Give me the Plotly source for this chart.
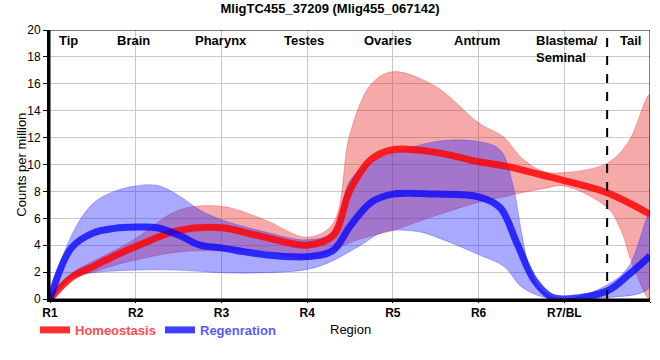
import plotly.graph_objects as go

# Region positions (index along the body) and tick labels
region_ticks = [0, 1, 2, 3, 4, 5, 6, 7]
region_labels = ["R1", "R2", "R3", "R4", "R5", "R6", "R7/BL", "R8/T"]

# Anatomical labels along the top
anat_names = ["Tip", "Brain", "Pharynx", "Testes", "Ovaries", "Antrum", "Blastema/<br>Seminal", "Tail"]
anat_pos = [0.21, 0.97, 2.0, 2.96, 3.94, 4.98, 5.65, 6.77]

# Homeostasis mean curve
homeo_x = [0, 0.25, 0.5, 0.75, 1, 1.5, 2, 2.5, 3, 3.3, 3.5, 3.75, 4, 4.5, 5, 5.3, 5.5, 5.75, 6, 6.5, 7]
homeo_y = [0, 1.6, 2.4, 3.2, 3.9, 5.1, 5.3, 4.6, 4.0, 4.7, 8.1, 10.4, 11.1, 10.9, 10.2, 9.9, 9.6, 9.2, 8.8, 7.9, 6.3]

# Homeostasis band
homeo_up_x = [0, 0.25, 0.5, 0.75, 1, 1.5, 2, 2.5, 3, 3.3, 3.5, 3.75, 4, 4.5, 5, 5.3, 5.5, 5.75, 6, 6.5, 6.75, 7]
homeo_up_y = [0, 1.9, 2.8, 3.6, 4.5, 6.6, 6.9, 5.9, 4.6, 5.6, 12.3, 16.0, 16.9, 15.8, 13.1, 12.0, 10.5, 9.5, 9.4, 10.1, 11.7, 15.2]
homeo_lo_x = [0, 0.25, 0.5, 0.75, 1, 1.5, 2, 2.5, 3, 3.3, 3.5, 3.75, 4, 4.5, 5, 5.3, 5.5, 5.75, 6, 6.5, 6.65, 6.8, 7]
homeo_lo_y = [0, 1.5, 2.0, 2.5, 2.9, 3.5, 3.6, 3.6, 3.0, 3.6, 4.2, 4.7, 5.1, 6.2, 7.2, 7.6, 7.9, 8.2, 8.4, 6.8, 5.3, 2.5, 0]

# Regeneration mean curve
regen_x = [0, 0.25, 0.5, 0.75, 1, 1.25, 1.5, 1.75, 2, 2.5, 3, 3.3, 3.5, 3.75, 4, 4.5, 5, 5.25, 5.45, 5.65, 5.85, 6, 6.5, 6.75, 7]
regen_y = [0, 3.8, 4.9, 5.25, 5.35, 5.3, 4.75, 4.0, 3.8, 3.3, 3.15, 3.6, 5.4, 7.2, 7.8, 7.8, 7.6, 6.8, 4.1, 1.4, 0.15, 0.0, 0.6, 1.8, 3.2]

# Regeneration band
regen_up_x = [0, 0.25, 0.5, 0.75, 1, 1.25, 1.5, 1.75, 2, 2.5, 3, 3.3, 3.5, 3.75, 4, 4.5, 5, 5.25, 5.4, 5.5, 5.6, 5.75, 6, 6.5, 6.75, 7]
regen_up_y = [0, 4.7, 7.1, 8.0, 8.4, 8.45, 7.7, 6.6, 5.9, 5.0, 4.4, 5.0, 8.8, 10.2, 10.8, 11.7, 11.7, 11.1, 8.5, 5.0, 2.2, 0.6, 0.0, 1.05, 2.4, 6.4]
regen_lo_x = [0, 0.25, 0.5, 1, 1.5, 2, 2.5, 3, 3.25, 3.6, 3.9, 4.3, 4.55, 5, 5.3, 5.5, 5.75, 6, 6.5, 7]
regen_lo_y = [0, 1.65, 1.95, 2.15, 2.15, 1.95, 1.95, 2.2, 2.7, 3.9, 5.0, 5.0, 4.5, 3.3, 2.4, 0.9, 0.15, 0.0, 0.1, 0.9]

FONT = "Liberation Sans, Arial, sans-serif"

fig = go.Figure()

def band(xu, yu, xl, yl, color):
    return go.Scatter(
        x=list(xu) + list(xl)[::-1],
        y=list(yu) + list(yl)[::-1],
        mode="lines", fill="toself", fillcolor=color,
        line=dict(width=0.8, color=color, shape="spline", smoothing=1.0),
        hoverinfo="skip", showlegend=False,
    )

fig.add_trace(band(homeo_up_x, homeo_up_y, homeo_lo_x, homeo_lo_y, "rgba(230,40,40,0.40)"))
fig.add_trace(band(regen_up_x, regen_up_y, regen_lo_x, regen_lo_y, "rgba(40,40,255,0.40)"))

fig.add_trace(go.Scatter(
    x=homeo_x, y=homeo_y, mode="lines",
    line=dict(color="rgba(255,0,0,0.82)", width=7, shape="spline", smoothing=1.0),
    name="<span style='color:#ff4d4d'><b>Homeostasis</b></span>",
))
fig.add_trace(go.Scatter(
    x=regen_x, y=regen_y, mode="lines",
    line=dict(color="rgba(0,0,255,0.75)", width=7, shape="spline", smoothing=1.0),
    name="<span style='color:#5a5aff'><b>Regenration</b></span>",
))

# dashed separator between Blastema/Seminal and Tail
fig.add_shape(type="line", x0=6.5, x1=6.5, y0=0, y1=20, xref="x", yref="y",
              line=dict(color="black", width=2, dash="dash"))
# thin frame on top and right
fig.add_shape(type="rect", x0=0, x1=7, y0=0, y1=20, xref="x", yref="y",
              line=dict(color="black", width=1), layer="above")

for name, pos in zip(anat_names, anat_pos):
    left = name.startswith("Blastema")
    fig.add_annotation(
        x=pos, y=20, xref="x", yref="y", text="<b>%s</b>" % name,
        showarrow=False, xanchor="left" if left else "center", yanchor="top",
        align="left", yshift=-1,
        font=dict(family=FONT, size=13, color="black"),
    )

fig.add_annotation(x=0.5, y=-0.115, xref="paper", yref="paper", text="Region",
                   showarrow=False, xanchor="center", yanchor="middle",
                   font=dict(family=FONT, size=13, color="black"))
fig.add_annotation(x=-0.048, y=0.5, xref="paper", yref="paper", text="Counts per million",
                   showarrow=False, xanchor="center", yanchor="middle", textangle=-90,
                   font=dict(family=FONT, size=13, color="black"))

fig.update_layout(
    width=660, height=360,
    margin=dict(l=50, r=10, t=30, b=61, autoexpand=False),
    paper_bgcolor="white", plot_bgcolor="white",
    font=dict(family=FONT, size=12, color="black"),
    title=dict(text="<b>MligTC455_37209 (Mlig455_067142)</b>", x=0.5, xanchor="center",
               y=0.99, yanchor="top", yref="container", automargin=False,
               font=dict(family=FONT, size=13, color="black")),
    showlegend=True,
    legend=dict(orientation="h", x=-0.025, xanchor="left", y=-0.115, yanchor="middle",
                font=dict(family=FONT, size=13), itemwidth=30, entrywidth=80,
                bgcolor="rgba(0,0,0,0)", tracegroupgap=0),
)

fig.update_xaxes(
    range=[0, 7], tickvals=region_ticks, automargin=False,
    ticktext=["<b>%s</b>" % t for t in region_labels],
    showgrid=True, gridcolor="#c8c8c8", gridwidth=1,
    showline=True, linecolor="black", linewidth=3,
    ticks="outside", ticklen=1, tickcolor="black",
    tickfont=dict(family=FONT, size=12, color="black"),
    zeroline=False,
)
fig.update_yaxes(
    range=[0, 20], dtick=2, automargin=False,
    showgrid=True, gridcolor="#c8c8c8", gridwidth=1,
    showline=True, linecolor="black", linewidth=3,
    ticks="outside", ticklen=4, tickcolor="black",
    tickfont=dict(family=FONT, size=12, color="black"),
    zeroline=False,
)

fig.write_html("out.html", config={"displayModeBar": False},
               post_script="document.body.style.margin='0px';")
